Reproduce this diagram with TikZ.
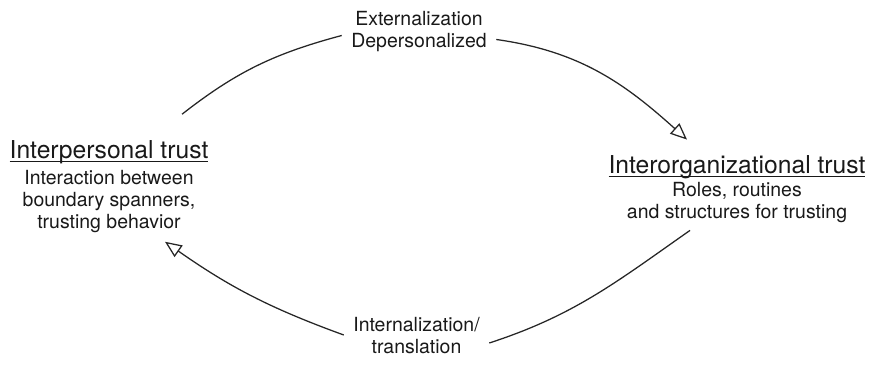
\documentclass[tikz,border=0pt]{standalone}
\usepackage{fontspec}
\setmainfont{TeX Gyre Heros}
\usetikzlibrary{arrows.meta}

\newsavebox\titlebox
\newcommand{\trusttitle}[1]{\sbox\titlebox{\fontsize{18.5pt}{22pt}\selectfont #1}\rlap{\rule[-2.3pt]{\wd\titlebox}{0.7pt}}\usebox\titlebox}

\begin{document}
\begin{tikzpicture}[x=0.75pt,y=0.75pt,
		link/.style={line width=0.95pt, draw=black!85},
		tip/.style={-{Triangle[open,length=12.5pt,width=10.5pt,line width=0.95pt]}}]
		\tikzstyle{every node}=[font=\fontsize{14.6pt}{16.5pt}\selectfont, text=black!90, align=center, inner sep=3pt]
		\useasboundingbox (0,0) rectangle (870,366);
		
		% the two kinds of trust
		\node (lp) at (109,179.5) {\trusttitle{Interpersonal trust}\\[2.8pt] Interaction between\\ boundary spanners,\\ trusting behavior};
		\node (rp) at (737,176.5) {\trusttitle{Interorganizational trust}\\[0.8pt] Roles, routines\\ and structures for trusting};
		
		% labels on the cycle
		\node[inner xsep=7pt] (ext) at (419,334.5) {Externalization\\ Depersonalized};
		\node[inner xsep=7pt] (int) at (416.5,30) {Internalization/\\ translation};
		
		% cycle
		\draw[link] ([shift={(73,22)}]lp.north) to[out=38,in=195] ([shift={(0,-4)}]ext.west);
		\draw[link,tip] ([shift={(0,-8)}]ext.east) to[out=-8,in=138] ([shift={(-50,12)}]rp.north);
		\draw[link] ([shift={(-47,-3)}]rp.south) to[out=215,in=18] ([shift={(0,-7)}]int.east);
		\draw[link,tip] ([shift={(0,1)}]int.west) to[out=160,in=-35] ([shift={(56,-5)}]lp.south);
		
	\end{tikzpicture}
\end{document}
